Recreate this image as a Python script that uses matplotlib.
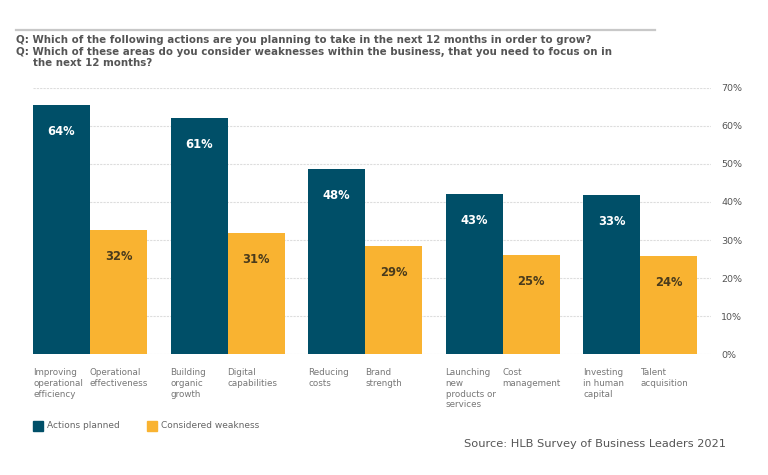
import numpy as np
import matplotlib.pyplot as plt
from matplotlib.patches import Rectangle
from matplotlib.lines import Line2D

# categories (two labels per group: action / weakness)
action_labels = ["Improving\noperational\nefficiency", "Building\norganic\ngrowth",
                 "Reducing\ncosts", "Launching\nnew\nproducts or\nservices",
                 "Investing\nin human\ncapital"]
weakness_labels = ["Operational\neffectiveness", "Digital\ncapabilities",
                   "Brand\nstrength", "Cost\nmanagement", "Talent\nacquisition"]

# bar heights as drawn in the chart, and the printed value labels
actions_height = [65.4, 62.0, 48.6, 42.0, 41.9]
weakness_height = [32.6, 31.9, 28.4, 26.1, 25.9]
actions_label = ["64%", "61%", "48%", "43%", "33%"]
weakness_label = ["32%", "31%", "29%", "25%", "24%"]

yticks = [0, 10, 20, 30, 40, 50, 60, 70]

blue = "#004f68"
yellow = "#f9b331"
font = "DejaVu Sans"

fig = plt.figure(figsize=(7.68, 4.75), dpi=100)
ax = fig.add_axes([33/768, 1-354.3/475, 678/768, 266.6/475])

x = np.arange(len(action_labels))
w = 0.4145
ax.bar(x - w/2, actions_height, w, color=blue, zorder=2)
ax.bar(x + w/2, weakness_height, w, color=yellow, zorder=2)

for i in range(len(x)):
    ax.annotate(actions_label[i], (x[i] - w/2, actions_height[i]), xytext=(0, -19),
                textcoords="offset points", ha="center", va="center",
                color="white", fontsize=8.3, fontweight="bold", family=font)
    ax.annotate(weakness_label[i], (x[i] + w/2, weakness_height[i]), xytext=(0, -19),
                textcoords="offset points", ha="center", va="center",
                color="#4a3b1c", fontsize=8.3, fontweight="bold", family=font)
    ax.annotate(action_labels[i], (x[i] - w, 0), xytext=(0, -10),
                textcoords="offset points", ha="left", va="top",
                color="#777777", fontsize=6.3, family=font, linespacing=1.25)
    ax.annotate(weakness_labels[i], (x[i], 0), xytext=(0, -10),
                textcoords="offset points", ha="left", va="top",
                color="#777777", fontsize=6.3, family=font, linespacing=1.25)

ax.set_xlim(-w, 4.516)
ax.set_ylim(0, 70)
ax.set_yticks(yticks)
ax.set_yticklabels([f"{t}%" for t in yticks], family=font, fontsize=6.8, color="#555555")
ax.yaxis.tick_right()
ax.tick_params(axis="y", length=0, pad=7.5)
ax.set_xticks([])
ax.grid(axis="y", color="#dddddd", linestyle=(0, (2, 1)), linewidth=0.8, zorder=0)
for s in ax.spines.values():
    s.set_visible(False)

# header rule and questions
fig.add_artist(Line2D([16/768, 655/768], [1-29.5/475, 1-29.5/475], color="#c8c8c8", linewidth=1.6))
qkw = dict(fontsize=7.4, color="#555555", fontweight="bold", family=font, va="center")
fig.text(16/768, 1-40/475, "Q: Which of the following actions are you planning to take in the next 12 months in order to grow?", **qkw)
fig.text(16/768, 1-52/475, "Q: Which of these areas do you consider weaknesses within the business, that you need to focus on in", **qkw)
fig.text(33/768, 1-63/475, "the next 12 months?", **qkw)

# legend
for lx, col, txt in [(33, blue, "Actions planned"), (147, yellow, "Considered weakness")]:
    fig.add_artist(Rectangle((lx/768, 1-431/475), 10/768, 10.5/475, color=col))
    fig.text((lx + 14)/768, 1-426/475, txt, fontsize=6.5, color="#666666", family=font, va="center")

fig.text(726/768, 1-444/475, "Source: HLB Survey of Business Leaders 2021", fontsize=8.2,
         color="#555555", family=font, ha="right", va="center")

fig.savefig("out.png", dpi=100)
